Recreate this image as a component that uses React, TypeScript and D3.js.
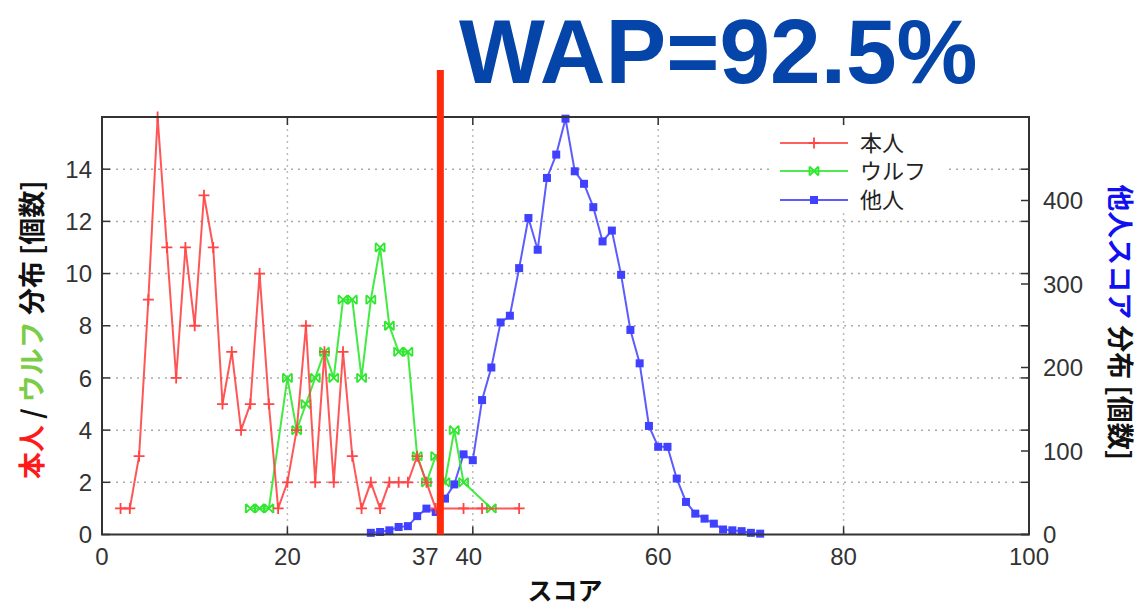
import React from "react";
import * as d3 from "d3";

// ---- data ----
const honninScores = [2,3,4,5,6,7,8,9,10,11,12,13,14,15,16,17,18,19,20,21,22,23,24,25,26,27,28,29,30,31,32,33,34,35,36,39,41,45];
const honninCounts = [1,1,3,9,16,11,6,11,8,13,11,5,7,4,5,10,5,1,2,4,8,2,7,2,7,3,1,2,1,2,2,2,3,2,1,1,1,1];

const wolfScores = [16,17,18,20,21,22,23,24,25,26,27,28,29,30,31,32,33,34,35,36,37,38,39,42];
const wolfCounts = [1,1,1,6,4,5,6,7,6,9,9,6,9,11,8,7,7,3,2,3,2,4,2,1];

const otherScores = [29,30,31,32,33,34,35,36,37,38,39,40,41,42,43,44,45,46,47,48,49,50,51,52,53,54,55,56,57,58,59,60,61,62,63,64,65,66,67,68,69,70,71];
const otherCounts = [2,3,5,9,10,22,31,27,43,60,96,89,161,200,254,262,319,379,341,427,455,498,435,420,392,351,364,311,245,205,130,105,105,67,39,25,19,13,6,5,4,2,1];

const xTicks = [0, 20, 40, 60, 80, 100];
const yLeftTicks = [0, 2, 4, 6, 8, 10, 12, 14];
const yRightTicks = [0, 100, 200, 300, 400];
const gridX = [20, 40, 60, 80];
const gridY = [2, 4, 6, 8, 10, 12, 14];
const thresholdLine = 36.5;
const thresholdLabel = "37";
const titleText = "WAP=92.5%";
const legendLabels = ["本人", "ウルフ", "他人"];

// ---- layout ----
const W = 1142, H = 607;
const plotL = 102, plotR = 1029, plotT = 117, plotB = 534.5;

const x = d3.scaleLinear().domain([0, 100]).range([plotL, plotR]);
const yL = d3.scaleLinear().domain([0, 16]).range([plotB, plotT]);
const yR = d3.scaleLinear().domain([0, 500]).range([plotB, plotT]);

const RED = "#ff4545";
const GREEN = "#2ee82e";
const BLUE = "#4040ff";
const tickFont = "'Liberation Sans', Arial, sans-serif";
const jpFont = "'Noto Sans CJK JP', sans-serif";

function Plus({ cx, cy, color }: { cx: number; cy: number; color: string }) {
  const s = 5.5;
  return (
    <path d={`M${cx - s},${cy}H${cx + s}M${cx},${cy - s}V${cy + s}`} stroke={color} strokeWidth={1.8} fill="none" />
  );
}
function Cross({ cx, cy, color }: { cx: number; cy: number; color: string }) {
  const s = 4.5;
  return (
    <path
      d={`M${cx - s},${cy - s}L${cx + s},${cy + s}M${cx - s},${cy + s}L${cx + s},${cy - s}M${cx - s},${cy - s}V${cy + s}M${cx + s},${cy - s}V${cy + s}`}
      stroke={color}
      strokeWidth={1.8}
      fill="none"
    />
  );
}
function Square({ cx, cy, color }: { cx: number; cy: number; color: string }) {
  const s = 4;
  return <rect x={cx - s} y={cy - s} width={2 * s} height={2 * s} fill={color} />;
}

export default function App() {
  const lineL = d3.line<[number, number]>().x((d) => x(d[0])).y((d) => yL(d[1]));
  const lineR = d3.line<[number, number]>().x((d) => x(d[0])).y((d) => yR(d[1]));
  const red = honninScores.map((s, i) => [s, honninCounts[i]] as [number, number]);
  const green = wolfScores.map((s, i) => [s, wolfCounts[i]] as [number, number]);
  const blue = otherScores.map((s, i) => [s, otherCounts[i]] as [number, number]);

  const legendX0 = 780, legendX1 = 848;
  const legendYs = [143, 171, 200];
  const legendColors = [RED, GREEN, BLUE];

  return (
    <svg width={W} height={H} style={{ position: "absolute", left: 0, top: 0, background: "#fff" }}>
      <rect x={0} y={0} width={W} height={H} fill="#fff" />
      {/* grid */}
      {gridY.map((v) => (
        <line key={"gy" + v} x1={plotL} x2={plotR} y1={yL(v)} y2={yL(v)} stroke="#aaa" strokeWidth={1.5} strokeDasharray="2,5" />
      ))}
      {gridX.map((v) => (
        <line key={"gx" + v} x1={x(v)} x2={x(v)} y1={plotT} y2={plotB} stroke="#bbb" strokeWidth={1.5} strokeDasharray="2,4" />
      ))}
      {/* legend background */}
      <rect x={770} y={128} width={178} height={82} fill="#fff" />

      {/* series */}
      <path d={lineR(blue) || ""} fill="none" stroke={BLUE} strokeWidth={2} strokeOpacity={0.85} />
      {blue.map((d, i) => (
        <Square key={"b" + i} cx={x(d[0])} cy={yR(d[1])} color={BLUE} />
      ))}
      <path d={lineL(green) || ""} fill="none" stroke={GREEN} strokeWidth={2} strokeOpacity={0.9} />
      {green.map((d, i) => (
        <Cross key={"g" + i} cx={x(d[0])} cy={yL(d[1])} color={GREEN} />
      ))}
      <path d={lineL(red) || ""} fill="none" stroke={RED} strokeWidth={2} strokeOpacity={0.9} />
      {red.map((d, i) => (
        <Plus key={"r" + i} cx={x(d[0])} cy={yL(d[1])} color={RED} />
      ))}

      {/* frame */}
      <rect x={plotL} y={plotT} width={plotR - plotL} height={plotB - plotT} fill="none" stroke="#333" strokeWidth={2} />
      {/* ticks */}
      {yLeftTicks.map((v) => (
        <g key={"tl" + v}>
          <line x1={plotL} x2={plotL + 8} y1={yL(v)} y2={yL(v)} stroke="#333" strokeWidth={1.5} />
          <line x1={plotR} x2={plotR - 8} y1={yL(v)} y2={yL(v)} stroke="#333" strokeWidth={1.5} />
          <text x={plotL - 10} y={yL(v)} dy="0.36em" textAnchor="end" fontFamily={tickFont} fontSize={24} fill="#333">
            {v}
          </text>
        </g>
      ))}
      {yRightTicks.map((v) => (
        <g key={"tr" + v}>
          <line x1={plotR} x2={plotR - 8} y1={yR(v)} y2={yR(v)} stroke="#333" strokeWidth={1.5} />
          <text x={1043} y={yR(v)} dy="0.36em" textAnchor="start" fontFamily={tickFont} fontSize={24} fill="#333">
            {v}
          </text>
        </g>
      ))}
      {xTicks.map((v) => (
        <g key={"tx" + v}>
          <line x1={x(v)} x2={x(v)} y1={plotB} y2={plotB - 8} stroke="#333" strokeWidth={1.5} />
          <line x1={x(v)} x2={x(v)} y1={plotT} y2={plotT + 8} stroke="#333" strokeWidth={1.5} />
          <text x={v === 40 ? x(v) - 4 : x(v)} y={565} textAnchor="middle" fontFamily={tickFont} fontSize={24} fill="#333">
            {v}
          </text>
        </g>
      ))}
      <text x={x(thresholdLine) - 15} y={565} textAnchor="middle" fontFamily={tickFont} fontSize={24} fill="#333">
        {thresholdLabel}
      </text>

      {/* legend */}
      {legendLabels.map((lab, i) => (
        <g key={"lg" + i}>
          <line x1={legendX0} x2={legendX1} y1={legendYs[i]} y2={legendYs[i]} stroke={legendColors[i]} strokeWidth={2} strokeOpacity={0.85} />
          {i === 0 && <Plus cx={(legendX0 + legendX1) / 2} cy={legendYs[i]} color={RED} />}
          {i === 1 && <Cross cx={(legendX0 + legendX1) / 2} cy={legendYs[i]} color={GREEN} />}
          {i === 2 && <Square cx={(legendX0 + legendX1) / 2} cy={legendYs[i]} color={BLUE} />}
          <text x={860} y={legendYs[i]} dy="0.36em" fontFamily={jpFont} fontSize={22} fill="#222">
            {lab}
          </text>
        </g>
      ))}

      {/* threshold line */}
      <line x1={x(thresholdLine)} x2={x(thresholdLine)} y1={70} y2={plotB} stroke="#ff2a0a" strokeWidth={7} />

      {/* title */}
      <text x={459} y={83} fontFamily="'Liberation Sans', Arial, sans-serif" fontWeight="bold" fontSize={91} fill="#0544a8">
        {titleText}
      </text>

      {/* x label */}
      <text x={565} y={600} textAnchor="middle" fontFamily={jpFont} fontWeight="bold" fontSize={25} fill="#111">
        スコア
      </text>

      {/* left y label */}
      <text transform={`translate(42,${(plotT + plotB) / 2 + 4}) rotate(-90)`} textAnchor="middle" fontFamily={jpFont} fontWeight="bold" fontSize={27}>
        <tspan fill="#ff1a1a">本人</tspan>
        <tspan fill="#111"> / </tspan>
        <tspan fill="#7ccc48">ウルフ</tspan>
        <tspan fill="#111"> 分布 [個数]</tspan>
      </text>

      {/* right y label */}
      <text transform={`translate(1110,322) rotate(90)`} textAnchor="middle" fontFamily={jpFont} fontWeight="bold" fontSize={27}>
        <tspan fill="#1010f0">他人スコア</tspan>
        <tspan fill="#111"> 分布 [個数]</tspan>
      </text>
    </svg>
  );
}
